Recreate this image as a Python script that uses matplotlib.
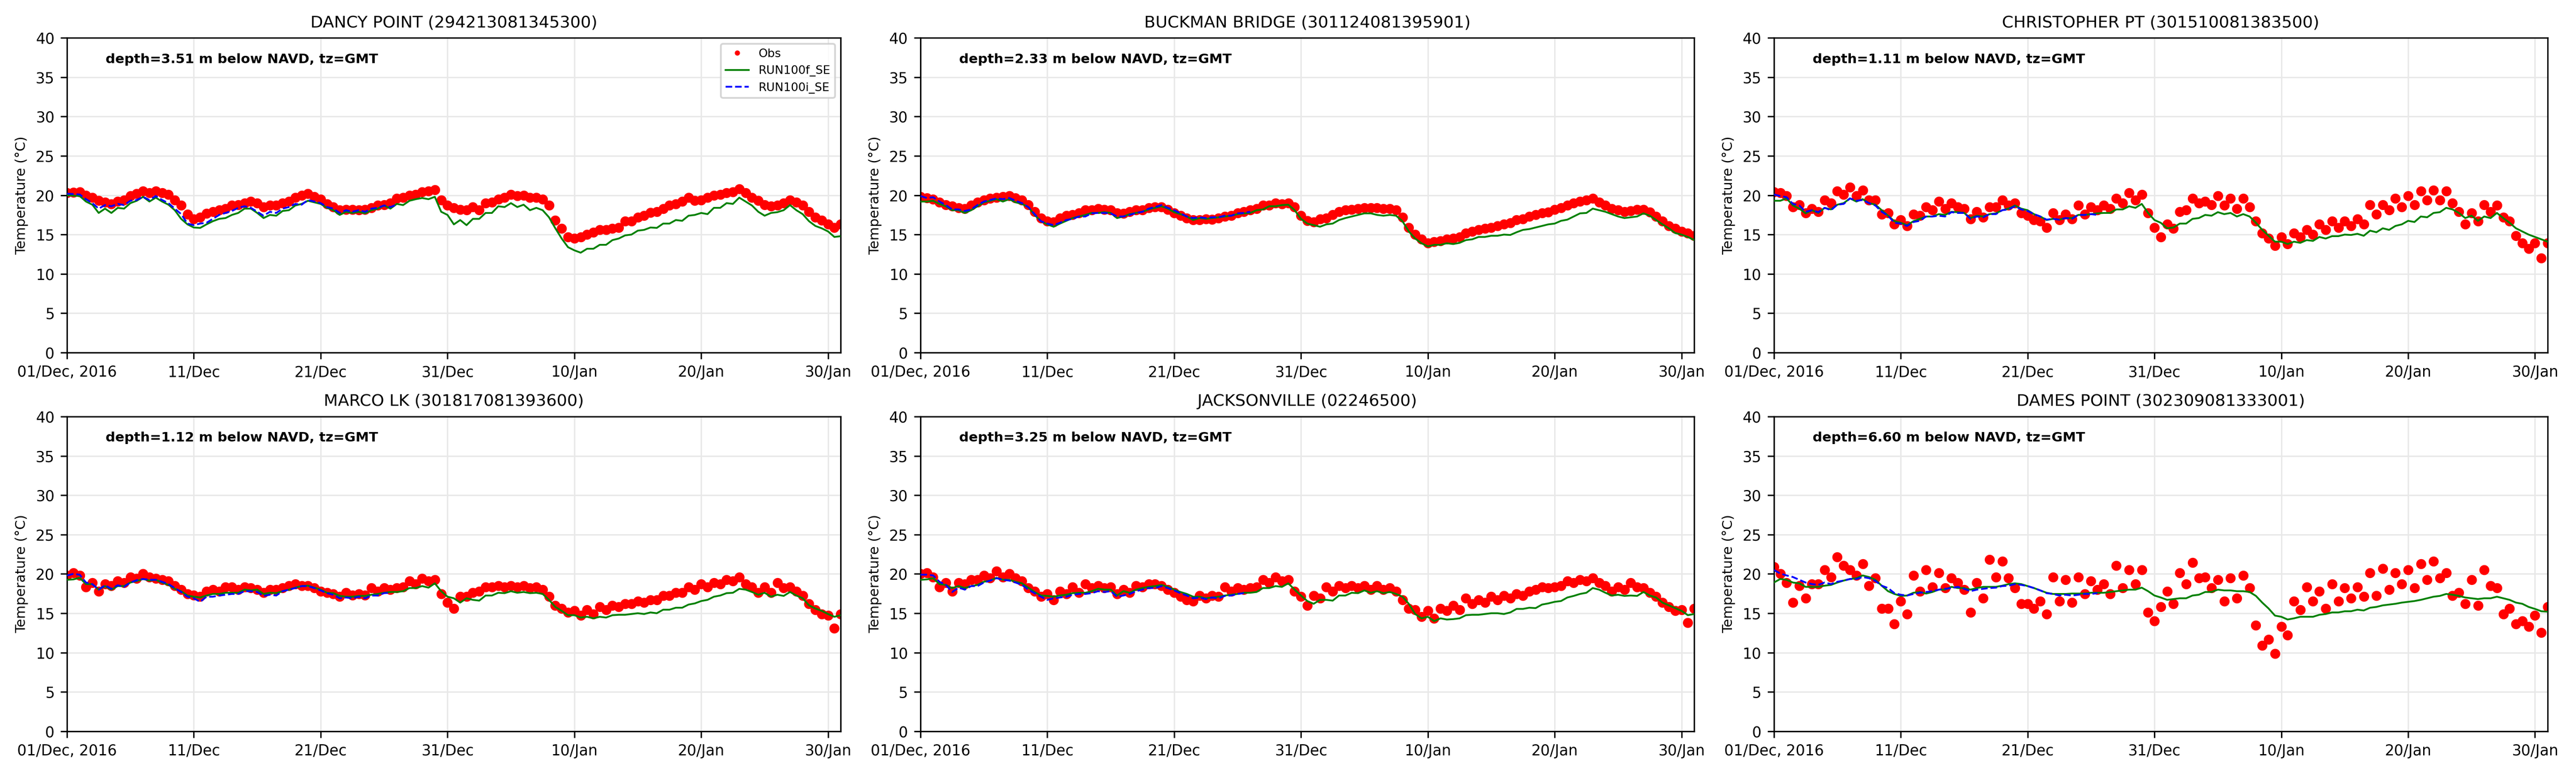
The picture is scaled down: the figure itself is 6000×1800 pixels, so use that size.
import numpy as np
import pandas as pd
import matplotlib
matplotlib.use("Agg")
import matplotlib.pyplot as plt

# ---------------- data (half-day samples starting 2016-12-01 00:00) ----------------
start = "2016-12-01"
titles = ["DANCY POINT (294213081345300)", "BUCKMAN BRIDGE (301124081395901)",
          "CHRISTOPHER PT (301510081383500)", "MARCO LK (301817081393600)",
          "JACKSONVILLE (02246500)", "DAMES POINT (302309081333001)"]
depths = ["3.51", "2.33", "1.11", "1.12", "3.25", "6.60"]
tick_dates = ["2016-12-01", "2016-12-11", "2016-12-21", "2016-12-31",
              "2017-01-10", "2017-01-20", "2017-01-30"]
tick_labels = ["01/Dec, 2016", "11/Dec", "21/Dec", "31/Dec", "10/Jan", "20/Jan", "30/Jan"]

obs_dancy = [20.3, 20.35, 20.4, 20.0, 19.7, 19.3, 19.1, 18.9, 19.2, 19.4, 19.9, 20.2, 20.5, 20.3, 20.5, 20.3, 20.1, 19.4, 18.7, 17.6, 17.0,
             17.2, 17.7, 17.9, 18.1, 18.3, 18.7, 18.8, 19.0, 19.2, 19.0, 18.5, 18.7, 18.75, 19.0, 19.2, 19.7, 20.0, 20.2, 19.8, 19.5,
             18.9, 18.5, 18.1, 18.2, 18.2, 18.1, 18.2, 18.4, 18.7, 18.8, 19.0, 19.6, 19.7, 20.0, 20.1, 20.4, 20.5, 20.7, 19.4, 18.7,
             18.4, 18.2, 18.1, 18.5, 18.1, 19.0, 19.1, 19.5, 19.7, 20.1, 19.9, 20.0, 19.7, 19.7, 19.5, 18.7, 16.8, 15.8, 14.7, 14.5,
             14.7, 15.0, 15.3, 15.6, 15.6, 15.8, 15.9, 16.7, 16.7, 17.2, 17.4, 17.8, 17.9, 18.3, 18.7, 18.9, 19.2, 19.7, 19.3, 19.4,
             19.7, 20.0, 20.1, 20.3, 20.4, 20.8, 20.3, 19.7, 19.3, 18.8, 18.6, 18.75, 19.0, 19.4, 19.1, 18.7, 17.9, 17.2, 16.8, 16.3,
             15.9, 16.3]
f_dancy = [20.0, 19.95, 19.9, 19.2, 18.8, 17.75, 18.3, 17.75, 18.4, 18.3, 19.0, 19.3, 19.8, 19.2, 19.7, 19.2, 18.8, 18.1, 17.0, 16.3, 15.9,
           15.85, 16.3, 16.7, 17.0, 17.1, 17.5, 17.75, 18.3, 18.3, 17.75, 17.1, 17.5, 17.4, 18.0, 18.1, 18.7, 18.9, 19.3, 19.1, 18.9,
           18.4, 18.1, 17.5, 17.9, 17.75, 17.9, 17.7, 18.1, 18.3, 18.7, 18.3, 18.9, 18.75, 19.3, 19.5, 19.65, 19.5, 19.8, 17.9, 17.5,
           16.3, 16.85, 16.2, 17.0, 17.0, 17.75, 17.75, 18.6, 18.5, 19.0, 18.5, 18.8, 18.1, 18.4, 18.1, 17.2, 15.8, 14.5, 13.4, 13.0,
           12.7, 13.2, 13.2, 13.7, 13.7, 14.3, 14.5, 14.9, 15.0, 15.5, 15.6, 15.9, 15.85, 16.4, 16.4, 16.85, 16.75, 17.4, 17.5, 17.75,
           17.6, 18.4, 18.4, 19.0, 18.9, 19.7, 19.2, 18.7, 17.9, 17.4, 17.75, 17.85, 18.1, 18.75, 18.1, 17.6, 16.7, 16.1, 15.8, 15.4,
           14.7, 14.8]
i_dancy = [20.2, 20.15, 20.1, 19.5, 19.0, 18.3, 18.75, 18.6, 18.9, 18.75, 19.3, 19.4, 19.8, 19.4, 19.9, 19.4, 19.0, 18.3, 17.6, 16.4, 16.2,
           16.4, 16.5, 17.0, 17.5, 17.75, 18.0, 18.4, 18.6, 18.4, 17.9, 17.4, 17.9, 17.75, 18.3, 18.5, 18.9, 18.8, 19.4, 19.2, 19.0,
           18.5, 18.3, 17.75, 18.1, 17.9, 18.1, 17.9, 18.3, 18.4, 18.7, 18.5, 18.8]

obs_buck = [19.8, 19.65, 19.5, 19.1, 18.8, 18.6, 18.4, 18.3, 18.75, 19.1, 19.4, 19.6, 19.7, 19.8, 19.9, 19.65, 19.4, 18.8, 17.9, 17.1, 16.7,
            16.6, 17.1, 17.4, 17.5, 17.75, 18.1, 18.1, 18.3, 18.2, 18.1, 17.75, 17.7, 17.9, 18.1, 18.1, 18.4, 18.5, 18.5, 18.2, 17.75,
            17.4, 17.1, 16.85, 16.85, 17.0, 16.9, 17.1, 17.3, 17.4, 17.75, 17.9, 18.1, 18.3, 18.7, 18.75, 19.0, 18.9, 19.0, 18.5, 17.4,
            16.75, 16.6, 17.0, 17.1, 17.5, 17.9, 18.1, 18.2, 18.3, 18.4, 18.4, 18.4, 18.3, 18.3, 18.1, 17.2, 15.9, 15.0, 14.4, 13.95,
            14.1, 14.2, 14.4, 14.5, 14.7, 15.2, 15.4, 15.6, 15.8, 15.9, 16.1, 16.3, 16.5, 16.85, 17.0, 17.3, 17.5, 17.75, 17.85, 18.2,
            18.4, 18.75, 19.0, 19.2, 19.4, 19.6, 19.1, 18.7, 18.3, 18.1, 17.9, 18.0, 18.2, 18.2, 17.85, 17.3, 16.7, 16.1, 15.8, 15.4,
            15.2, 14.85]
f_buck = [19.2, 19.2, 19.3, 18.9, 18.6, 18.1, 18.1, 17.75, 18.1, 18.6, 19.1, 19.3, 19.5, 19.2, 19.5, 19.1, 18.9, 18.5, 17.5, 16.7, 16.3,
          16.0, 16.4, 16.75, 17.1, 17.3, 17.5, 17.75, 17.75, 17.85, 17.75, 17.1, 17.3, 17.6, 17.75, 17.9, 18.2, 18.4, 18.6, 18.3, 17.85,
          17.6, 17.3, 16.85, 17.1, 17.0, 17.1, 17.2, 17.3, 17.4, 17.6, 17.7, 17.75, 18.1, 18.2, 18.6, 18.6, 18.75, 18.8, 18.1, 17.0,
          16.4, 16.2, 16.0, 16.3, 16.4, 16.85, 17.1, 17.3, 17.5, 17.7, 17.7, 17.5, 17.4, 17.5, 17.4, 16.7, 15.4, 14.5, 13.9, 13.5,
          13.7, 13.7, 13.9, 13.8, 13.95, 14.3, 14.4, 14.7, 14.7, 14.85, 14.85, 15.0, 14.95, 15.3, 15.6, 15.7, 15.9, 16.1, 16.3, 16.4,
          16.75, 16.9, 17.3, 17.7, 17.75, 18.3, 18.1, 17.9, 17.6, 17.3, 17.1, 17.2, 17.3, 17.7, 17.4, 16.85, 16.3, 15.8, 15.2, 15.0,
          14.7, 14.3]
i_buck = [19.9, 19.65, 19.75, 19.2, 18.75, 18.2, 18.2, 18.0, 18.2, 18.75, 19.2, 19.4, 19.6, 19.5, 19.65, 19.3, 19.0, 18.5, 17.6, 16.7, 16.4,
          16.2, 16.5, 16.85, 17.0, 17.3, 17.3, 17.7, 17.75, 17.75, 17.7, 17.3, 17.3, 17.5, 17.75, 17.9, 18.3, 18.5, 18.75, 18.4, 18.1,
          17.7, 17.3, 17.1, 17.2, 17.1, 17.2, 17.2, 17.4, 17.4, 17.7, 17.75, 17.9]

obs_chris = [20.4, 20.3, 19.9, 18.5, 18.8, 17.75, 18.3, 17.9, 19.4, 19.0, 20.5, 20.1, 21.0, 19.9, 20.65, 19.4, 19.4, 17.6, 17.75, 16.3, 16.85,
             16.1, 17.6, 17.4, 18.5, 18.1, 19.2, 18.3, 19.0, 18.5, 18.3, 17.0, 17.9, 17.2, 18.5, 18.5, 19.4, 18.7, 19.0, 17.75, 17.4,
             16.85, 16.7, 15.9, 17.75, 16.85, 17.6, 17.0, 18.7, 17.6, 18.5, 18.1, 18.7, 18.3, 19.6, 19.0, 20.3, 19.4, 20.1, 17.75, 15.9,
             14.7, 16.3, 15.8, 17.9, 18.1, 19.6, 19.0, 19.2, 18.8, 19.9, 18.7, 19.6, 18.3, 19.6, 18.5, 16.7, 15.2, 14.5, 13.6, 14.7,
             13.8, 15.2, 14.7, 15.6, 15.0, 16.3, 15.6, 16.7, 15.9, 16.7, 16.1, 17.0, 16.3, 18.8, 17.6, 18.8, 18.1, 19.6, 18.5, 19.9,
             18.8, 20.5, 19.4, 20.65, 19.4, 20.5, 19.0, 17.9, 16.3, 17.75, 16.7, 18.8, 17.9, 18.7, 17.2, 16.7, 14.85, 13.95, 13.2, 13.95,
             12.0, 13.95]
f_chris = [19.3, 19.3, 19.6, 18.7, 18.3, 17.7, 18.1, 17.75, 18.4, 18.2, 18.8, 19.0, 19.6, 19.2, 19.5, 19.0, 18.8, 18.1, 17.4, 16.7, 16.5,
           16.2, 16.7, 17.0, 17.3, 17.3, 17.6, 17.5, 17.9, 17.85, 17.75, 17.1, 17.4, 17.3, 17.6, 17.7, 18.1, 18.3, 18.7, 18.3, 18.1,
           17.6, 17.3, 16.85, 17.0, 16.9, 17.1, 17.1, 17.5, 17.5, 17.6, 17.7, 17.75, 17.75, 18.2, 18.2, 18.6, 18.4, 18.9, 17.75, 16.85,
           16.5, 15.8, 15.9, 16.4, 16.4, 17.0, 17.1, 17.5, 17.4, 17.85, 17.6, 17.75, 17.3, 17.6, 17.3, 16.5, 15.6, 14.85, 14.1, 14.1,
           13.8, 14.1, 13.95, 14.3, 14.2, 14.7, 14.5, 14.8, 14.8, 15.0, 14.95, 15.1, 14.85, 15.5, 15.3, 15.8, 15.6, 16.1, 16.3, 16.75,
           16.6, 17.3, 17.2, 17.75, 17.85, 18.4, 18.2, 17.75, 17.1, 17.4, 16.75, 17.3, 17.1, 17.75, 17.1, 16.5, 15.8, 15.4, 15.0, 14.7,
           14.4, 14.1]
i_chris = [20.1, 19.9, 19.75, 18.9, 18.7, 17.9, 18.1, 17.85, 18.4, 18.1, 18.8, 18.9, 19.6, 19.3, 19.4, 19.0, 18.7, 17.9, 17.4, 16.5, 16.4,
           16.1, 16.6, 16.75, 17.3, 17.3, 17.4, 17.3, 17.85, 17.75, 17.75, 17.0, 17.3, 17.2, 17.6, 17.6, 18.1, 18.2, 18.6, 18.2, 18.0,
           17.6, 17.3, 16.9, 17.0, 16.9, 17.1, 17.0, 17.5, 17.5, 17.6, 17.5]

obs_marco = [19.8, 20.15, 19.8, 18.35, 18.9, 17.8, 18.7, 18.5, 19.1, 18.9, 19.6, 19.4, 20.0, 19.6, 19.4, 19.25, 19.1, 18.5, 18.0, 17.45, 17.3,
             17.1, 17.8, 18.0, 17.8, 18.35, 18.35, 18.0, 18.35, 18.2, 18.0, 17.6, 18.0, 18.0, 18.2, 18.5, 18.7, 18.5, 18.5, 18.2, 17.8,
             17.6, 17.45, 17.1, 17.6, 17.3, 17.45, 17.3, 18.2, 17.8, 18.2, 18.0, 18.2, 18.35, 19.1, 18.7, 19.4, 19.1, 19.25, 17.45, 16.35,
             15.6, 17.1, 17.1, 17.6, 17.8, 18.35, 18.35, 18.5, 18.35, 18.5, 18.35, 18.5, 18.2, 18.35, 18.0, 17.1, 16.0, 15.6, 15.1, 15.3,
             14.7, 15.45, 14.9, 15.8, 15.45, 16.0, 15.8, 16.2, 16.2, 16.55, 16.35, 16.7, 16.7, 17.25, 17.25, 17.6, 17.6, 18.35, 18.0, 18.7,
             18.35, 18.9, 18.7, 19.25, 19.1, 19.6, 18.7, 18.35, 17.6, 18.35, 17.6, 18.9, 18.2, 18.35, 17.8, 17.25, 16.2, 15.45, 14.9, 14.7,
             13.1, 14.9]
f_marco = [19.25, 19.3, 19.5, 18.7, 18.7, 18.0, 18.45, 18.0, 18.45, 18.45, 18.9, 19.1, 19.35, 19.15, 19.25, 18.9, 18.6, 18.1, 17.8, 17.25, 17.1,
           17.0, 17.25, 17.45, 17.45, 17.6, 17.6, 17.6, 18.0, 17.9, 18.0, 17.45, 17.6, 17.55, 17.8, 18.0, 18.25, 18.45, 18.5, 18.25, 18.0,
           17.6, 17.55, 17.2, 17.1, 17.1, 17.2, 17.2, 17.35, 17.45, 17.6, 17.7, 17.7, 17.8, 18.2, 18.2, 18.45, 18.25, 18.8, 17.8, 17.1,
           16.9, 16.35, 16.9, 16.7, 16.6, 17.25, 17.25, 17.6, 17.55, 17.8, 17.6, 17.7, 17.55, 17.6, 17.45, 16.7, 15.8, 15.3, 14.75, 14.75,
           14.45, 14.55, 14.35, 14.55, 14.45, 14.75, 14.8, 14.8, 14.9, 15.0, 14.9, 15.1, 15.0, 15.45, 15.45, 15.7, 15.7, 16.1, 16.25, 16.55,
           16.7, 17.1, 17.25, 17.55, 17.6, 18.1, 18.0, 17.7, 17.35, 17.6, 17.1, 17.35, 17.2, 17.7, 17.25, 16.9, 16.0, 15.6, 15.3, 14.9,
           14.55, 14.75]
i_marco = [19.8, 20.0, 19.9, 18.9, 18.7, 18.0, 18.55, 18.1, 18.55, 18.35, 18.9, 19.2, 19.35, 19.25, 19.25, 19.0, 18.7, 18.2, 17.7, 17.1, 16.9,
           16.45, 17.1, 17.1, 17.25, 17.35, 17.45, 17.45, 17.8, 17.8, 17.7, 17.2, 17.35, 17.25, 17.8, 18.0, 18.2, 18.45, 18.45, 18.2, 17.9,
           17.55, 17.35, 16.9, 17.0, 16.9, 17.1, 16.9, 17.25, 17.25, 17.55, 17.6]

obs_jax = [20.0, 20.15, 19.6, 18.35, 18.9, 17.8, 18.9, 18.7, 19.25, 19.25, 19.8, 19.45, 20.35, 19.6, 20.0, 19.45, 19.1, 18.2, 17.8, 17.1, 17.45,
           16.7, 17.8, 17.45, 18.35, 17.6, 18.7, 18.2, 18.5, 18.2, 18.35, 17.45, 18.0, 17.6, 18.5, 18.35, 18.7, 18.7, 18.5, 18.0, 17.6,
           17.1, 16.7, 16.55, 17.25, 16.9, 17.25, 17.1, 18.35, 17.8, 18.2, 18.0, 18.2, 18.35, 19.25, 18.9, 19.6, 19.1, 19.25, 17.8, 17.1,
           16.0, 17.25, 16.9, 18.35, 17.8, 18.5, 18.2, 18.5, 18.2, 18.5, 18.0, 18.5, 18.0, 18.2, 17.8, 16.7, 15.6, 15.45, 14.55, 15.3,
           14.35, 15.6, 15.3, 16.0, 15.45, 16.9, 16.2, 16.7, 16.35, 17.1, 16.7, 17.25, 16.9, 17.45, 17.25, 17.8, 18.0, 18.35, 18.2, 18.35,
           18.5, 19.1, 18.9, 19.25, 19.1, 19.45, 18.9, 18.5, 17.8, 18.35, 18.0, 18.9, 18.35, 18.2, 17.6, 17.1, 16.35, 15.8, 15.3, 15.45,
           13.8, 15.6]
f_jax = [19.25, 19.3, 19.45, 18.7, 18.6, 18.2, 18.45, 18.2, 18.45, 18.6, 19.0, 19.15, 19.5, 19.25, 19.25, 19.0, 18.8, 18.25, 17.7, 17.25, 17.2,
         17.1, 17.25, 17.35, 17.55, 17.6, 17.6, 17.8, 18.1, 18.0, 18.0, 17.25, 17.8, 17.6, 18.0, 18.2, 18.35, 18.45, 18.6, 18.35, 18.0,
         17.7, 17.45, 17.1, 17.1, 16.9, 17.0, 17.1, 17.25, 17.35, 17.45, 17.6, 17.6, 17.7, 18.2, 18.2, 18.45, 18.35, 18.8, 18.0, 17.25,
         16.55, 16.2, 16.7, 16.7, 16.6, 17.25, 17.25, 17.6, 17.55, 17.9, 17.6, 17.8, 17.55, 17.7, 17.45, 17.1, 16.2, 14.9, 14.35, 14.55,
         14.0, 14.35, 14.2, 14.25, 14.35, 14.75, 14.8, 14.8, 14.9, 15.0, 15.0, 14.9, 15.1, 15.55, 15.55, 15.7, 15.65, 16.1, 16.25, 16.45,
         16.55, 17.0, 17.2, 17.45, 17.6, 18.2, 18.0, 17.6, 17.25, 17.35, 17.2, 17.25, 17.2, 17.7, 17.25, 17.0, 16.35, 16.0, 15.65, 15.3,
         14.75, 14.9]
i_jax = [19.9, 19.9, 19.8, 19.0, 18.6, 17.7, 18.25, 18.0, 18.45, 18.45, 18.9, 19.15, 19.45, 19.25, 19.15, 18.9, 18.6, 18.0, 17.55, 17.1, 16.7,
         16.9, 17.0, 17.1, 17.35, 17.45, 17.45, 17.55, 17.8, 17.7, 17.8, 17.1, 17.25, 17.45, 17.8, 18.0, 18.2, 18.2, 18.45, 18.2, 17.9,
         17.55, 17.25, 16.9, 17.0, 16.8, 17.0, 16.9, 17.2, 17.25, 17.45, 17.55]

obs_dames = [20.9, 20.0, 18.9, 16.35, 18.5, 16.9, 18.7, 18.7, 20.5, 19.6, 22.15, 21.05, 20.5, 19.8, 21.25, 18.5, 19.45, 15.6, 15.6, 13.65, 16.55,
             14.9, 19.8, 17.8, 20.5, 18.35, 20.15, 18.2, 19.45, 18.9, 18.0, 15.1, 18.9, 16.9, 21.8, 19.6, 21.6, 19.45, 18.2, 16.2, 16.2,
             15.6, 16.55, 14.9, 19.6, 16.55, 19.25, 16.35, 19.6, 17.45, 19.1, 18.0, 18.7, 17.45, 21.05, 18.2, 20.5, 18.7, 20.5, 15.1, 14.0,
             15.8, 17.8, 16.2, 20.15, 18.7, 21.45, 19.45, 19.6, 18.2, 19.25, 16.55, 19.45, 16.9, 19.8, 18.2, 13.45, 10.9, 11.65, 9.85, 13.3,
             12.2, 16.55, 15.45, 18.35, 16.55, 17.8, 15.6, 18.7, 16.55, 18.2, 16.9, 18.35, 17.1, 20.15, 17.25, 20.7, 18.0, 20.15, 18.7, 20.5,
             18.2, 21.25, 19.25, 21.6, 19.45, 20.15, 17.25, 17.6, 16.2, 19.25, 16.0, 20.5, 18.5, 18.2, 14.9, 15.6, 13.65, 14.0, 13.3, 14.7,
             12.55, 15.8]
f_dames = [18.9, 19.35, 19.25, 18.9, 18.8, 18.35, 18.35, 18.35, 18.5, 18.6, 18.9, 19.15, 19.35, 19.45, 19.8, 19.6, 19.25, 18.5, 17.8, 17.45, 17.2,
           17.25, 17.6, 17.7, 17.5, 17.7, 18.0, 18.0, 18.35, 18.2, 18.2, 18.0, 18.2, 18.35, 18.35, 18.35, 18.5, 18.7, 18.8, 18.7, 18.45,
           18.2, 17.9, 17.6, 17.45, 17.45, 17.45, 17.5, 17.5, 17.5, 17.6, 17.6, 17.6, 17.7, 17.8, 17.9, 18.0, 18.0, 18.25, 17.8, 17.25,
           17.0, 16.7, 16.8, 16.9, 16.9, 17.25, 17.35, 17.7, 17.7, 18.0, 17.9, 17.9, 17.8, 17.8, 17.7, 17.2, 16.35, 15.6, 14.7, 14.55,
           14.2, 14.35, 14.55, 14.55, 14.55, 14.8, 14.9, 15.1, 15.1, 15.25, 15.25, 15.45, 15.35, 15.7, 15.8, 16.0, 16.1, 16.2, 16.35, 16.45,
           16.55, 16.7, 16.9, 17.1, 17.2, 17.45, 17.35, 17.2, 17.0, 16.9, 16.8, 16.9, 16.9, 17.1, 16.9, 16.7, 16.35, 16.2, 15.8, 15.55,
           15.25, 15.2]
i_dames = [20.5, 20.05, 19.8, 19.6, 19.25, 18.9, 18.7, 18.6, 18.9, 18.7, 19.0, 19.15, 19.35, 19.35, 19.6, 19.45, 19.1, 18.5, 18.2, 17.55, 17.35,
           17.25, 17.45, 17.6, 17.7, 17.8, 18.0, 18.1, 18.2, 18.35, 18.1, 17.8, 18.0, 18.1, 18.2, 18.25, 18.45, 18.5, 18.7, 18.6, 18.45,
           18.2, 17.9, 17.55, 17.45, 17.25, 17.35, 17.25, 17.35, 17.45, 17.45, 17.55]

obs_all = [obs_dancy, obs_buck, obs_chris, obs_marco, obs_jax, obs_dames]
f_all = [f_dancy, f_buck, f_chris, f_marco, f_jax, f_dames]
i_all = [i_dancy, i_buck, i_chris, i_marco, i_jax, i_dames]

# ---------------- figure ----------------
plt.rcParams['font.family'] = ['DejaVu Sans']
fig, axes = plt.subplots(2, 3, figsize=(20, 6), dpi=300)
fig.subplots_adjust(left=0.026, right=0.989, bottom=0.054, top=0.951, wspace=0.103, hspace=0.203)

ticks = pd.to_datetime(tick_dates)
for k, ax in enumerate(axes.flat):
    obs = obs_all[k]
    fr = f_all[k]
    ir = i_all[k]
    t_obs = pd.date_range(start, periods=len(obs), freq="12h")
    t_f = pd.date_range(start, periods=len(fr), freq="12h")
    t_i = pd.date_range(start, periods=len(ir), freq="12h")
    ax.plot(t_obs, obs, 'o', color='red', markersize=5.6, markeredgewidth=0, label='Obs', zorder=2)
    ax.plot(t_f, fr, '-', color='green', lw=1.0, label='RUN100f_SE', zorder=3)
    ax.plot(t_i, ir, '--', color='blue', lw=1.0, label='RUN100i_SE', zorder=4)
    ax.set_xlim(pd.Timestamp("2016-12-01"), pd.Timestamp("2017-01-31"))
    ax.set_ylim(0, 40)
    ax.set_yticks(np.arange(0, 41, 5))
    ax.set_xticks(ticks)
    ax.set_xticklabels(tick_labels)
    ax.tick_params(labelsize=8.3)
    ax.grid(True, color='#e8e8e8', lw=0.8, zorder=0)
    ax.set_axisbelow(True)
    ax.set_title(titles[k], fontsize=9.2)
    ax.set_ylabel('Temperature (°C)', fontsize=7.7)
    ax.text(0.05, 0.932, f"depth={depths[k]} m below NAVD, tz=GMT", transform=ax.transAxes,
            fontsize=7.5, fontweight='bold', va='center', ha='left')
    if k == 0:
        ax.legend(loc='upper right', fontsize=6.5, markerscale=0.52)

fig.savefig("out.png", dpi=300)
